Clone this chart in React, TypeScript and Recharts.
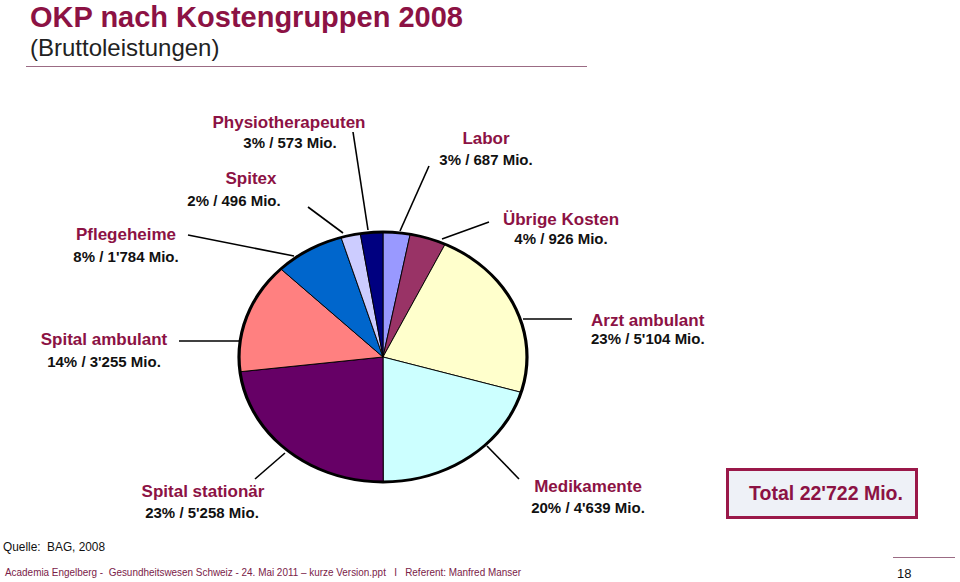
import { Cell, Pie, PieChart } from 'recharts';

const categories = [
  'Labor',
  'Übrige Kosten',
  'Arzt ambulant',
  'Medikamente',
  'Spital stationär',
  'Spital ambulant',
  'Pflegeheime',
  'Spitex',
  'Physiotherapeuten'
];
const costsMio = [687, 926, 5104, 4639, 5258, 3255, 1784, 496, 573];
const sharePct = [3, 4, 23, 20, 23, 14, 8, 2, 3];
const sliceColors = ['#9999FF', '#993366', '#FFFFCC', '#CCFFFF', '#660066', '#FF8080', '#0066CC', '#CCCCFF', '#000080'];

// label placement (name / value baselines, leader line), same order as categories
const labelPos = [
  { nx: 486, ny: 144, vx: 486, vy: 165, anchor: 'middle', line: [400, 231, 429, 166] },
  { nx: 561, ny: 225, vx: 561, vy: 244, anchor: 'middle', line: [442, 239, 489, 222] },
  { nx: 591, ny: 326, vx: 591, vy: 344, anchor: 'start', line: [523, 319, 572, 319] },
  { nx: 588, ny: 492, vx: 588, vy: 513, anchor: 'middle', line: [487, 446, 519, 479] },
  { nx: 203, ny: 497, vx: 202, vy: 518, anchor: 'middle', line: [285, 453, 255, 479] },
  { nx: 104, ny: 345, vx: 104, vy: 367, anchor: 'middle', line: [240, 341, 179, 341] },
  { nx: 126, ny: 240, vx: 126, vy: 262, anchor: 'middle', line: [294, 256, 188, 235] },
  { nx: 251, ny: 184, vx: 234, vy: 206, anchor: 'middle', line: [343, 233, 308, 207] },
  { nx: 289, ny: 128, vx: 290, vy: 148, anchor: 'middle', line: [368, 230, 353, 132] }
];

const data = categories.map((name, i) => ({ name, value: costsMio[i], pct: sharePct[i] }));
const total = costsMio.reduce((a, b) => a + b, 0);

const W = 960;
const H = 582;
const CX = 383;
const CY = 357;
const R = 144;
const FLAT = 125 / 144;
const FONT = '"Liberation Sans", Arial, Helvetica, sans-serif';
const RED = '#8C1244';

const fmt = (v: number) => String(v).replace(/\B(?=(\d{3})+(?!\d))/g, "'");

function renderLabel(props: any) {
  const i = props.index;
  const p = labelPos[i];
  const d = data[i];
  const [x1, y1, x2, y2] = p.line;
  return (
    <g key={`lbl-${i}`}>
      <line x1={x1} y1={y1} x2={x2} y2={y2} stroke="#000" strokeWidth={1.6} />
      <text x={p.nx} y={p.ny} textAnchor={p.anchor as any} fill={RED} fontSize={17} fontWeight="bold" fontFamily={FONT}>
        {d.name}
      </text>
      <text x={p.vx} y={p.vy} textAnchor={p.anchor as any} fill="#111" fontSize={15} fontWeight="bold" fontFamily={FONT}>
        {`${d.pct}% / ${fmt(d.value)} Mio.`}
      </text>
    </g>
  );
}

export default function App() {
  return (
    <div style={{ position: 'absolute', left: 0, top: 0, width: W, height: H, background: '#fff', overflow: 'hidden' }}>
      {/* slices are drawn round and squeezed into the flat ellipse */}
      <div
        style={{
          position: 'absolute',
          left: 0,
          top: 0,
          width: W,
          height: H,
          transform: `scaleY(${FLAT})`,
          transformOrigin: `${CX}px ${CY}px`
        }}
      >
        <PieChart width={W} height={H} margin={{ top: 0, right: 0, bottom: 0, left: 0 }}>
          <Pie
            data={data}
            dataKey="value"
            cx={CX}
            cy={CY}
            outerRadius={R}
            startAngle={90}
            endAngle={-270}
            stroke="#000"
            strokeWidth={1}
            isAnimationActive={false}
          >
            {data.map((d, i) => (
              <Cell key={d.name} fill={sliceColors[i]} />
            ))}
          </Pie>
          <Pie
            data={[{ value: 1 }]}
            dataKey="value"
            cx={CX}
            cy={CY}
            innerRadius={R - 1.6}
            outerRadius={R + 1.6}
            startAngle={90}
            endAngle={-270}
            fill="#000"
            stroke="none"
            isAnimationActive={false}
          />
        </PieChart>
      </div>

      <div style={{ position: 'absolute', left: 0, top: 0 }}>
        <PieChart width={W} height={H} margin={{ top: 0, right: 0, bottom: 0, left: 0 }}>
          <Pie
            data={data}
            dataKey="value"
            cx={CX}
            cy={CY}
            outerRadius={R}
            startAngle={90}
            endAngle={-270}
            fill="none"
            stroke="none"
            label={renderLabel}
            labelLine={false}
            isAnimationActive={false}
          />
        </PieChart>
      </div>

      <svg width={W} height={H} style={{ position: 'absolute', left: 0, top: 0, pointerEvents: 'none' }}>
        <text x={30} y={27} fill={RED} fontSize={29} fontWeight="bold" fontFamily={FONT}>
          OKP nach Kostengruppen 2008
        </text>
        <text x={30} y={56} fill="#222" fontSize={24} fontFamily={FONT}>
          (Bruttoleistungen)
        </text>
        <line x1={26} y1={66.5} x2={587} y2={66.5} stroke="#9B6B84" strokeWidth={1} />

        <rect x={727.5} y={469.5} width={189} height={48} fill="#EEF1F7" stroke="#9A1849" strokeWidth={3} />
        <text x={826} y={500} textAnchor="middle" fill={RED} fontSize={19.5} fontWeight="bold" fontFamily={FONT}>
          {`Total ${fmt(total)} Mio.`}
        </text>

        <text
          x={3}
          y={551}
          fill="#111"
          fontSize={12.5}
          fontFamily={FONT}
          textLength={102}
          lengthAdjust="spacingAndGlyphs"
          style={{ whiteSpace: 'pre' }}
        >
          {'Quelle:  BAG, 2008'}
        </text>
        <text
          x={5}
          y={576}
          fill="#7A2248"
          fontSize={11.5}
          fontFamily={FONT}
          textLength={516}
          lengthAdjust="spacingAndGlyphs"
          style={{ whiteSpace: 'pre' }}
        >
          {'Academia Engelberg -  Gesundheitswesen Schweiz - 24. Mai 2011 – kurze Version.ppt   I   Referent: Manfred Manser'}
        </text>
        <line x1={893} y1={557.5} x2={955} y2={557.5} stroke="#9B6B84" strokeWidth={1} />
        <text x={897} y={578} fill="#111" fontSize={13} fontFamily={FONT}>
          18
        </text>
      </svg>
    </div>
  );
}
